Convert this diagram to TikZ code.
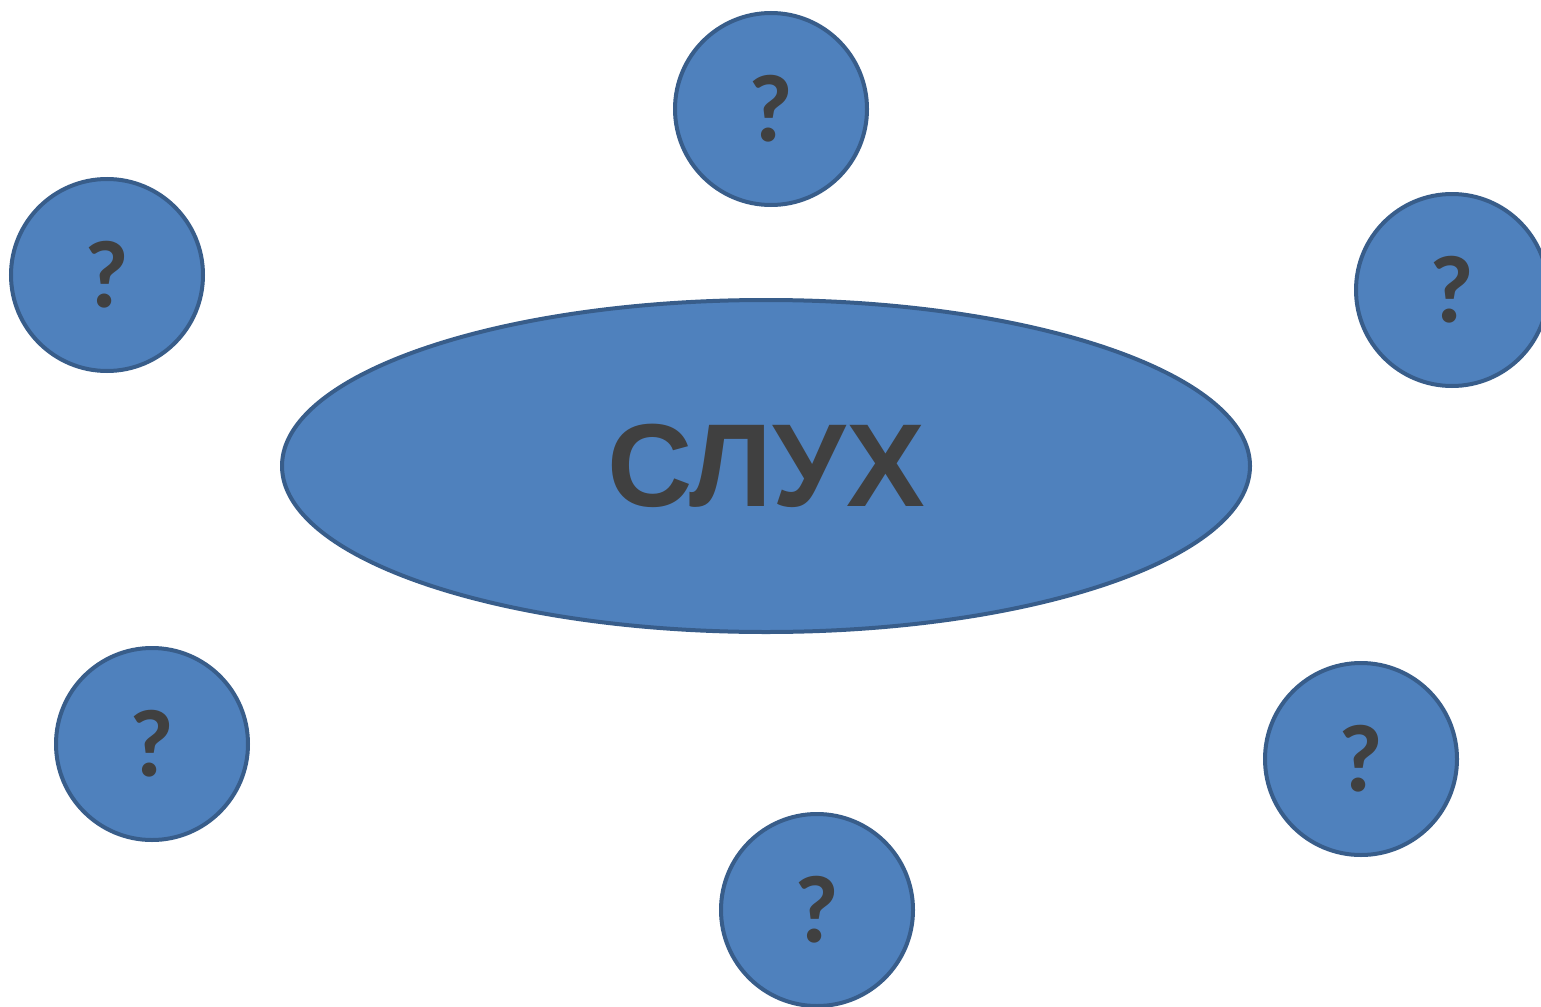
\documentclass[tikz,border=0pt]{standalone}
\usepackage{fontspec}
\setmainfont{Liberation Sans}
\newfontfamily\qfont{Carlito}[BoldFont={Carlito Bold}]
\usetikzlibrary{shapes.geometric}
\definecolor{bubblefill}{HTML}{4F81BD}
\definecolor{bubbleedge}{HTML}{385D8A}
\definecolor{bubbletext}{HTML}{404040}
\tikzset{
   bubble/.style={draw=bubbleedge, fill=bubblefill, line width=2pt,
      text=bubbletext, inner sep=0pt},
   topic/.style={bubble, ellipse, minimum width=484pt, minimum height=166pt,
      font=\fontsize{59}{59}\selectfont\bfseries},
   question/.style={bubble, circle, minimum size=96pt,
      font=\qfont\bfseries\fontsize{48}{48}\selectfont},
    }
\begin{document}
\begin{tikzpicture}[x=0.5pt, y=-0.5pt]
        \useasboundingbox (0,0) rectangle (1541,1006);
        \clip (0,0) rectangle (1541,1006);
        \node[topic] (hearing) at (766,466) {СЛУХ};
        \node[question] (q1) at (771,109) {?};
        \node[question] (q2) at (107,275) {?};
        \node[question] (q3) at (1452,290) {?};
        \node[question] (q4) at (152,744) {?};
        \node[question] (q5) at (1361,759) {?};
        \node[question] (q6) at (817,910) {?};
    \end{tikzpicture}
\end{document}
